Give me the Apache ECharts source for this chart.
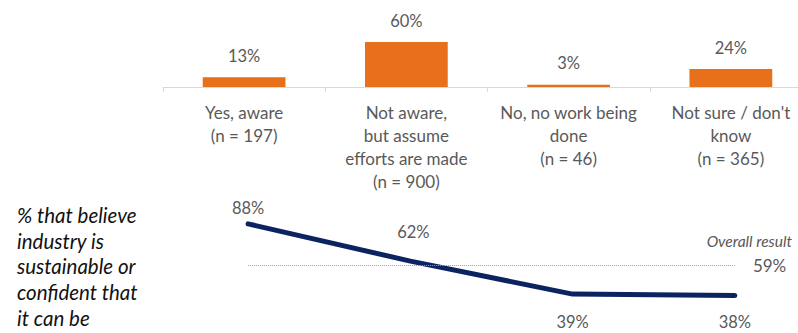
<!DOCTYPE html>
<html>
<head>
<meta charset="utf-8">
<script src="https://cdn.jsdelivr.net/npm/echarts@6/dist/echarts.min.js"></script>
<style>
  html, body { margin: 0; padding: 0; background: #ffffff; }
  #chart { width: 798px; height: 333px; }
</style>
</head>
<body>
<div id="chart"></div>
<script>
// Awareness groups (axis labels keep their own line breaks)
const categories = [
  'Yes, aware\n(n = 197)',
  'Not aware,\nbut assume\nefforts are made\n(n = 900)',
  'No, no work being\ndone\n(n = 46)',
  "Not sure / don't\nknow\n(n = 365)"
];
// Share of respondents in each awareness group (%)
const awareShare = [13, 60, 3, 24];
// % that believe industry is sustainable or confident that it can be
const sustainableShare = [88, 62, 39, 38];
// Result across all respondents (%)
const overallResult = 59;

const sideNote = '% that believe\nindustry is\nsustainable or\nconfident that\nit can be';

const FONT = 'Lato, "Open Sans", sans-serif';
const GREY = '#595959';

// Per-point label placement for the line
const lineLabelPos = [
  { position: 'top', distance: 7, offset: [0, 0] },
  { position: 'top', distance: 20, offset: [3, 0] },
  { position: 'bottom', distance: 19, offset: [0, 0] },
  { position: 'bottom', distance: 17, offset: [0, 0] }
];

const chart = echarts.init(document.getElementById('chart'), null, { renderer: 'svg' });

chart.setOption({
  animation: false,
  backgroundColor: '#ffffff',
  textStyle: { fontFamily: FONT },
  grid: [
    { left: 163, width: 649, top: 42, height: 45, outerBoundsMode: 'none', containLabel: false },
    { left: 167, width: 649, top: 221, height: 86, outerBoundsMode: 'none', containLabel: false }
  ],
  xAxis: [
    {
      type: 'category',
      gridIndex: 0,
      data: categories,
      boundaryGap: true,
      axisLine: { lineStyle: { color: '#d9d9d9', width: 1 } },
      axisTick: { show: true, length: 5, lineStyle: { color: '#d9d9d9' } },
      axisLabel: {
        color: GREY,
        fontFamily: FONT,
        fontSize: 17,
        lineHeight: 23,
        margin: 14,
        interval: 0
      }
    },
    {
      type: 'category',
      gridIndex: 1,
      data: categories,
      boundaryGap: true,
      show: false
    }
  ],
  yAxis: [
    { type: 'value', gridIndex: 0, min: 0, max: 60, show: false },
    { type: 'value', gridIndex: 1, min: 30, max: 90, show: false }
  ],
  series: [
    {
      type: 'bar',
      xAxisIndex: 0,
      yAxisIndex: 0,
      data: awareShare,
      barWidth: '51%',
      itemStyle: { color: '#e8701a' },
      label: {
        show: true,
        position: 'top',
        distance: 13,
        color: GREY,
        fontFamily: FONT,
        fontSize: 16.5,
        formatter: p => p.value + '%'
      }
    },
    {
      type: 'line',
      xAxisIndex: 1,
      yAxisIndex: 1,
      data: sustainableShare.map((v, i) => ({
        value: v,
        label: lineLabelPos[i]
      })),
      symbol: 'circle',
      symbolSize: 1,
      showSymbol: true,
      itemStyle: { color: 'rgba(0,0,0,0)' },
      lineStyle: { color: '#0b2461', width: 5, cap: 'round', join: 'round' },
      label: {
        show: true,
        color: GREY,
        fontFamily: FONT,
        fontSize: 16.5,
        formatter: p => p.value + '%'
      },
      markLine: {
        silent: true,
        symbol: 'none',
        lineStyle: { color: '#9a9a9a', type: 'dotted', width: 1 },
        label: {
          show: true,
          position: 'end',
          distance: 18,
          color: GREY,
          fontFamily: FONT,
          fontSize: 17,
          formatter: p => p.value + '%'
        },
        data: [[
          { coord: [0, overallResult] },
          { coord: [3, overallResult], value: overallResult }
        ]]
      }
    }
  ],
  graphic: [
    {
      type: 'text',
      left: 17,
      top: 202,
      style: {
        text: sideNote,
        fill: '#111111',
        font: 'italic 20.5px ' + FONT,
        lineHeight: 25.7
      }
    },
    {
      type: 'text',
      right: 6,
      top: 233,
      style: {
        text: 'Overall result',
        fill: GREY,
        font: 'italic 15.5px ' + FONT
      }
    }
  ]
});
</script>
</body>
</html>
